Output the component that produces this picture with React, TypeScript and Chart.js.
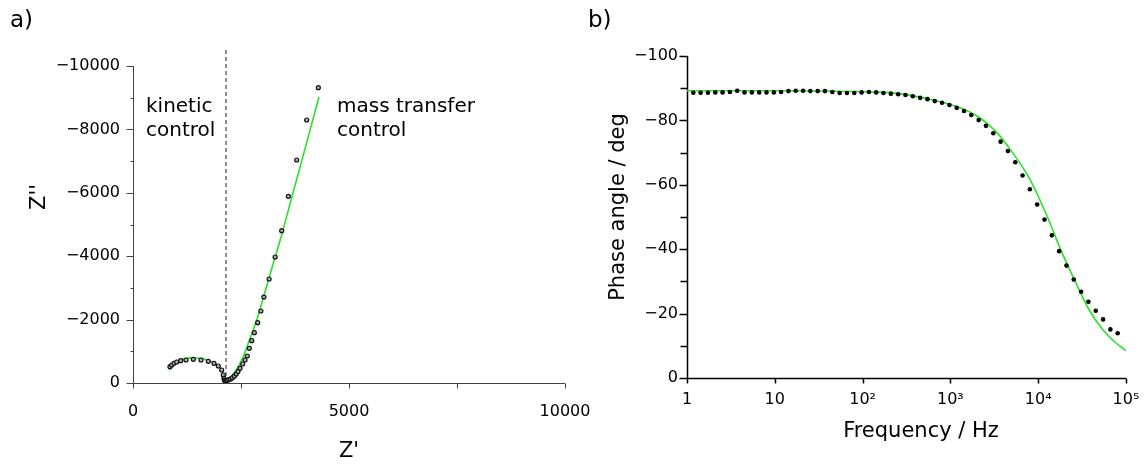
import React, { useEffect, useRef } from 'react';
import { Chart, registerables } from 'chart.js';

Chart.register(...registerables);

const FONT = "'DejaVu Sans', 'Liberation Sans', sans-serif";

// ---------- Panel a) Nyquist plot ----------
const nyquistRe = [856, 896, 949, 1011, 1104, 1227, 1396, 1574, 1743, 1875, 1975, 2053, 2090, 2106, 2115, 2130, 2155, 2185, 2220, 2260, 2300, 2345, 2390, 2430, 2477, 2539, 2593, 2646, 2692, 2748, 2808, 2886, 2960, 3030, 3150, 3290, 3442, 3596, 3789, 4020, 4290];
const nyquistIm = [-514, -568, -621, -662, -703, -726, -747, -726, -684, -621, -536, -410, -252, -148, -90, -70, -72, -85, -105, -130, -165, -215, -280, -360, -464, -599, -726, -852, -1095, -1334, -1586, -1902, -2271, -2710, -3280, -3975, -4805, -5890, -7035, -8297, -9316];
const nyquistFitRe = [833, 900, 1000, 1100, 1250, 1400, 1550, 1700, 1850, 1950, 2030, 2080, 2105, 2118, 2140, 2200, 2300, 2400, 2553, 2700, 2863, 3050, 3248, 3426, 3700, 4000, 4306];
const nyquistFitIm = [-410, -540, -660, -735, -785, -795, -780, -735, -655, -565, -450, -320, -200, -110, -70, -110, -250, -440, -830, -1370, -1987, -2850, -3776, -4600, -5980, -7480, -9022];
const boundaryRe = 2153;
const boundaryIm = [0, -10570];
const nyqXMajor = [0, 5000, 10000];
const nyqXMinor = [2500, 7500];
const nyqYMajor = [0, -2000, -4000, -6000, -8000, -10000];
const nyqYMinor = [-1000, -3000, -5000, -7000, -9000];

// ---------- Panel b) Bode phase plot ----------
const bodeFreq = [
  1.18, 1.43, 1.73, 2.10, 2.54, 3.08, 3.73, 4.52, 5.48, 6.64, 8.04, 9.74,
  11.8, 14.3, 17.3, 21.0, 25.4, 30.8, 37.3, 45.2, 54.8, 66.4, 80.4, 97.4,
  118, 143, 173, 210, 254, 308, 373, 452, 548, 664, 804, 974,
  1180, 1430, 1730, 2100, 2540, 3080, 3730, 4520, 5480, 6640, 8040, 9740,
  11800, 14300, 17300, 21000, 25400, 30800, 37300, 45200, 54800, 66400, 80400,
];
const bodePhase = [
  -88.6, -88.6, -88.6, -88.7, -88.7, -88.8, -89.2, -88.7, -88.7, -88.7, -88.7, -88.7,
  -88.8, -89.1, -89.2, -89.2, -89.1, -89.1, -89.1, -88.8, -88.5, -88.5, -88.5, -88.7,
  -88.8, -88.7, -88.5, -88.3, -88.1, -87.9, -87.5, -87.0, -86.6, -86.0, -85.5, -84.8,
  -83.9, -82.9, -81.7, -80.1, -78.3, -76.0, -73.4, -70.5, -67.0, -62.9, -58.6, -53.9,
  -49.2, -44.3, -39.4, -34.9, -30.6, -26.8, -23.7, -20.9, -18.2, -15.1, -13.9,
];
const bodeFitFreq = [1, 10, 100, 245, 575, 1380, 2140, 3310, 5010, 7940, 12300, 18600, 26900, 38000, 53700, 72400, 100000];
const bodeFitPhase = [-89.2, -89.2, -88.9, -88.4, -86.6, -83.6, -80.9, -76.5, -70.3, -62.0, -51.0, -39.0, -29.5, -21.2, -15.2, -11.5, -8.4];
const bodeXTicks = [1, 10, 100, 1000, 10000, 100000];
const bodeXLabels = ['1', '10', '10²', '10³', '10⁴', '10⁵'];
const bodeYMajor = [0, -20, -40, -60, -80, -100];
const bodeYMinor = [-10, -30, -50, -70, -90];

const GREEN = 'rgb(40, 228, 40)';

const fmtNeg = (v: number) => (v === 0 ? '0' : (v < 0 ? '\u2212' : '') + Math.abs(v));

type Txt = { text: string; x: number; y: number; size: number; rotate?: boolean; align?: CanvasTextAlign; baseline?: CanvasTextBaseline };

type Decor = {
  axisColor: string;
  axisWidth: number;
  xMajor: number[];
  xMinor: number[];
  yMajor: number[];
  yMinor: number[];
  xMajorLen: number;
  xMinorLen: number;
  yMajorLen: number;
  yMinorLen: number;
  texts: Txt[];
};

function decorPlugin(cfg: Decor) {
  return {
    id: 'decor',
    beforeDatasetsDraw(chart: any) {
      const { ctx, chartArea: a, scales } = chart;
      const xs = scales.x;
      const ys = scales.y;
      const L = Math.round(a.left) + 0.5;
      const B = Math.round(a.bottom) + 0.5;
      ctx.save();
      ctx.strokeStyle = cfg.axisColor;
      ctx.lineWidth = cfg.axisWidth;
      ctx.beginPath();
      ctx.moveTo(L, a.top);
      ctx.lineTo(L, B);
      ctx.lineTo(a.right, B);
      for (const v of cfg.xMajor) {
        const p = Math.round(xs.getPixelForValue(v)) + 0.5;
        ctx.moveTo(p, B);
        ctx.lineTo(p, B + cfg.xMajorLen);
      }
      for (const v of cfg.xMinor) {
        const p = Math.round(xs.getPixelForValue(v)) + 0.5;
        ctx.moveTo(p, B);
        ctx.lineTo(p, B + cfg.xMinorLen);
      }
      for (const v of cfg.yMajor) {
        const p = Math.round(ys.getPixelForValue(v)) + 0.5;
        ctx.moveTo(L, p);
        ctx.lineTo(L - cfg.yMajorLen, p);
      }
      for (const v of cfg.yMinor) {
        const p = Math.round(ys.getPixelForValue(v)) + 0.5;
        ctx.moveTo(L, p);
        ctx.lineTo(L - cfg.yMinorLen, p);
      }
      ctx.stroke();
      ctx.fillStyle = '#000';
      for (const t of cfg.texts) {
        ctx.save();
        ctx.font = `${t.size}px ${FONT}`;
        ctx.textAlign = t.align || 'center';
        ctx.textBaseline = t.baseline || 'middle';
        ctx.translate(t.x, t.y);
        if (t.rotate) ctx.rotate(-Math.PI / 2);
        ctx.fillText(t.text, 0, 0);
        ctx.restore();
      }
      ctx.restore();
    },
  };
}

const tickFont = { family: FONT, size: 16 };

const fixX = (h: number) => (s: any) => {
  s.height = h;
  s.paddingLeft = 0;
  s.paddingRight = 0;
};
const fixY = (w: number) => (s: any) => {
  s.width = w;
  s.paddingTop = 0;
  s.paddingBottom = 0;
};

export default function App() {
  const leftRef = useRef<HTMLCanvasElement>(null);
  const rightRef = useRef<HTMLCanvasElement>(null);

  useEffect(() => {
    const left = new Chart(leftRef.current as HTMLCanvasElement, {
      type: 'scatter',
      data: {
        datasets: [
          {
            data: nyquistRe.map((x, i) => ({ x, y: nyquistIm[i] })),
            pointRadius: 2,
            borderWidth: 1.2,
            borderColor: '#111',
            backgroundColor: '#b0b0b0',
            showLine: false,
          },
          {
            data: nyquistFitRe.map((x, i) => ({ x, y: nyquistFitIm[i] })),
            showLine: true,
            pointRadius: 0,
            borderColor: GREEN,
            borderWidth: 1.6,
            cubicInterpolationMode: 'monotone',
          },
          {
            data: boundaryIm.map((y) => ({ x: boundaryRe, y })),
            showLine: true,
            pointRadius: 0,
            borderColor: '#555',
            borderWidth: 1.3,
            borderDash: [4, 3],
            clip: false,
          },
        ],
      } as any,
      options: {
        animation: false,
        responsive: false,
        maintainAspectRatio: false,
        layout: { padding: { left: 0, top: 66, right: 35, bottom: 0 } },
        plugins: { legend: { display: false }, tooltip: { enabled: false } },
        scales: {
          x: {
            type: 'linear',
            min: 0,
            max: 10000,
            afterBuildTicks: (s: any) => {
              s.ticks = nyqXMajor.map((value) => ({ value }));
            },
            afterFit: fixX(85),
            grid: { display: false, drawTicks: false },
            border: { display: false },
            ticks: {
              padding: 19,
              font: tickFont,
              color: '#000',
              maxRotation: 0,
              autoSkip: false,
              callback: (v: any) => String(v),
            },
          },
          y: {
            type: 'linear',
            min: -10000,
            max: 0,
            reverse: true,
            afterBuildTicks: (s: any) => {
              s.ticks = nyqYMajor.map((value) => ({ value }));
            },
            afterFit: fixY(133),
            grid: { display: false, drawTicks: false },
            border: { display: false },
            ticks: {
              padding: 13,
              font: tickFont,
              color: '#000',
              autoSkip: false,
              callback: (v: any) => fmtNeg(Number(v)),
            },
          },
        },
      } as any,
      plugins: [
        decorPlugin({
          axisColor: '#444',
          axisWidth: 1,
          xMajor: nyqXMajor,
          xMinor: nyqXMinor,
          yMajor: nyqYMajor,
          yMinor: nyqYMinor,
          xMajorLen: 5,
          xMinorLen: 5,
          yMajorLen: 7,
          yMinorLen: 3,
          texts: [
            { text: 'a)', x: 10, y: 27, size: 23, align: 'left', baseline: 'alphabetic' },
            { text: "Z''", x: 40, y: 197, size: 21, rotate: true },
            { text: "Z'", x: 349, y: 452, size: 21 },
            { text: 'kinetic', x: 146, y: 112, size: 20, align: 'left', baseline: 'alphabetic' },
            { text: 'control', x: 146, y: 136, size: 20, align: 'left', baseline: 'alphabetic' },
            { text: 'mass transfer', x: 337, y: 112, size: 20, align: 'left', baseline: 'alphabetic' },
            { text: 'control', x: 337, y: 136, size: 20, align: 'left', baseline: 'alphabetic' },
          ],
        }),
      ],
    });

    const right = new Chart(rightRef.current as HTMLCanvasElement, {
      type: 'scatter',
      data: {
        datasets: [
          {
            data: bodeFreq.map((x, i) => ({ x, y: bodePhase[i] })),
            pointRadius: 2.3,
            borderWidth: 0,
            backgroundColor: '#000',
            showLine: false,
          },
          {
            data: bodeFitFreq.map((x, i) => ({ x, y: bodeFitPhase[i] })),
            showLine: true,
            pointRadius: 0,
            borderColor: GREEN,
            borderWidth: 1.6,
            cubicInterpolationMode: 'monotone',
          },
        ],
      } as any,
      options: {
        animation: false,
        responsive: false,
        maintainAspectRatio: false,
        layout: { padding: { left: 0, top: 56, right: 20, bottom: 0 } },
        plugins: { legend: { display: false }, tooltip: { enabled: false } },
        scales: {
          x: {
            type: 'logarithmic',
            min: 1,
            max: 100000,
            afterBuildTicks: (s: any) => {
              s.ticks = bodeXTicks.map((value) => ({ value }));
            },
            afterFit: fixX(90),
            grid: { display: false, drawTicks: false },
            border: { display: false },
            ticks: {
              padding: 12,
              font: tickFont,
              color: '#000',
              maxRotation: 0,
              autoSkip: false,
              callback: (v: any) => {
                const i = bodeXTicks.indexOf(Number(v));
                return i >= 0 ? bodeXLabels[i] : '';
              },
            },
          },
          y: {
            type: 'linear',
            min: -100,
            max: 0,
            reverse: true,
            afterBuildTicks: (s: any) => {
              s.ticks = bodeYMajor.map((value) => ({ value }));
            },
            afterFit: fixY(127),
            grid: { display: false, drawTicks: false },
            border: { display: false },
            ticks: {
              padding: 9,
              font: tickFont,
              color: '#000',
              autoSkip: false,
              callback: (v: any) => fmtNeg(Number(v)),
            },
          },
        },
      } as any,
      plugins: [
        decorPlugin({
          axisColor: '#000',
          axisWidth: 1.5,
          xMajor: bodeXTicks,
          xMinor: [],
          yMajor: bodeYMajor,
          yMinor: bodeYMinor,
          xMajorLen: 5,
          xMinorLen: 0,
          yMajorLen: 8,
          yMinorLen: 7,
          texts: [
            { text: 'b)', x: 28, y: 27, size: 23, align: 'left', baseline: 'alphabetic' },
            { text: 'Phase angle / deg', x: 59, y: 207, size: 21, rotate: true },
            { text: 'Frequency / Hz', x: 361, y: 432, size: 21 },
          ],
        }),
      ],
    });

    return () => {
      left.destroy();
      right.destroy();
    };
  }, []);

  return (
    <div style={{ position: 'absolute', left: 0, top: 0, width: 1146, height: 468, background: '#fff', overflow: 'hidden' }}>
      <canvas ref={leftRef} width={600} height={468} style={{ position: 'absolute', left: 0, top: 0, width: 600, height: 468, display: 'block' }} />
      <canvas ref={rightRef} width={586} height={468} style={{ position: 'absolute', left: 560, top: 0, width: 586, height: 468, display: 'block' }} />
    </div>
  );
}
